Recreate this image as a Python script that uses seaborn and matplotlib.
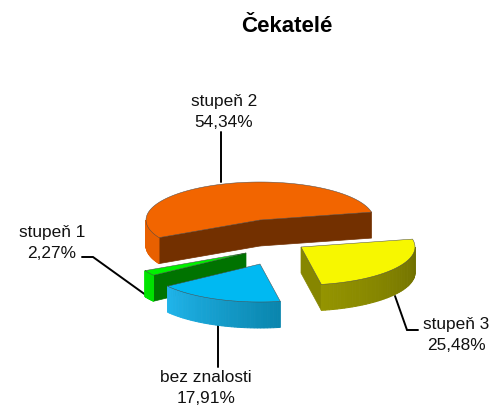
#!/usr/bin/env python3

import numpy as np
import seaborn as sns
import matplotlib.pyplot as plt
from matplotlib.colors import to_rgb

categories = ["stupeň 2", "stupeň 1", "bez znalosti", "stupeň 3"]
shares = [54.34, 2.27, 17.91, 25.48]

title = "Čekatelé"

# look of the 3d pie, in pixels of the picture
start_angle = 12
rx, ry = 114, 38
depth = 26
centers = [(260, 220), (246, 253), (260, 264), (301, 247)]
top_colors = ["#F26500", "#00F000", "#00B9F2", "#F7F700"]
cut_colors = ["#733000", "#007300", "#0090C0", "#868600"]
wall_colors = [("#E86000", "#E86000"), ("#00E600", "#00E000"),
               ("#20B4EA", "#0A86AE"), ("#949400", "#707000")]
draw_order = [0, 3, 1, 2]

label_pos = [(224, 112), (52, 243), (206, 388), (456, 335)]
leaders = [([221, 221], [132, 182]),
           ([82, 93, 150], [257, 257, 298]),
           ([218, 218], [325, 367]),
           ([395, 407, 418], [296, 330, 330])]


def rim(center, angles):
    x = center[0] + rx * np.cos(angles)
    y = center[1] - ry * np.sin(angles)
    return x, y


def draw_slice(ax, center, a0, a1, top, cut, wall, zorder):
    cx, cy = center
    # the flat cut sides, only where they face the viewer
    for a, visible in ((a0, np.cos(a0) > 0), (a1, np.cos(a1) < 0)):
        if visible:
            ex, ey = rim(center, np.array([a]))
            ax.fill([cx, ex[0], ex[0], cx], [cy, ey[0], ey[0] + depth, cy + depth],
                    facecolor=cut, edgecolor=cut, linewidth=0.5, zorder=zorder)

    # outer wall, front half of the rim only
    lo = max(a0, np.pi)
    hi = min(a1, 2 * np.pi)
    if hi > lo:
        angles = np.linspace(lo, hi, 40)
        x, y = rim(center, angles)
        c0, c1 = np.array(to_rgb(wall[0])), np.array(to_rgb(wall[1]))
        for i in range(len(angles) - 1):
            c = c0 + (c1 - c0) * i / (len(angles) - 2)
            ax.fill([x[i], x[i + 1], x[i + 1], x[i]],
                    [y[i], y[i + 1], y[i + 1] + depth, y[i] + depth],
                    facecolor=c, edgecolor=c, linewidth=0.7, zorder=zorder)

    # top face
    angles = np.linspace(a0, a1, 120)
    x, y = rim(center, angles)
    ax.fill(np.r_[cx, x], np.r_[cy, y], facecolor=top, edgecolor="#4a4a4a", linewidth=0.35, zorder=zorder + 0.5)


sns.set_theme(style="white")
plt.rcParams['font.family'] = ['Liberation Sans', 'DejaVu Sans']

fig, ax = plt.subplots(figsize=(4.92, 4.07), dpi=100)
ax.set_position([0, 0, 1, 1])
ax.set_xlim(0, 492)
ax.set_ylim(407, 0)
ax.axis("off")

edges = np.radians(start_angle + np.r_[0, np.cumsum(shares)] * 3.6)

for z, i in enumerate(draw_order):
    draw_slice(ax, centers[i], edges[i], edges[i + 1], top_colors[i], cut_colors[i], wall_colors[i], z + 1)

for lx, ly in leaders:
    ax.plot(lx, ly, color="black", linewidth=1.4, solid_joinstyle="miter", zorder=0.5)

for name, share, (x, y) in zip(categories, shares, label_pos):
    ax.text(x, y, name + "\n" + f"{share:.2f}%".replace(".", ","), ha="center", va="center",
            fontsize=12.4, linespacing=1.42, color="#111111", zorder=10)

ax.text(287, 26, title, ha="center", va="center", fontsize=16, fontweight="bold", color="black")

fig.savefig("out.png", dpi=100)
